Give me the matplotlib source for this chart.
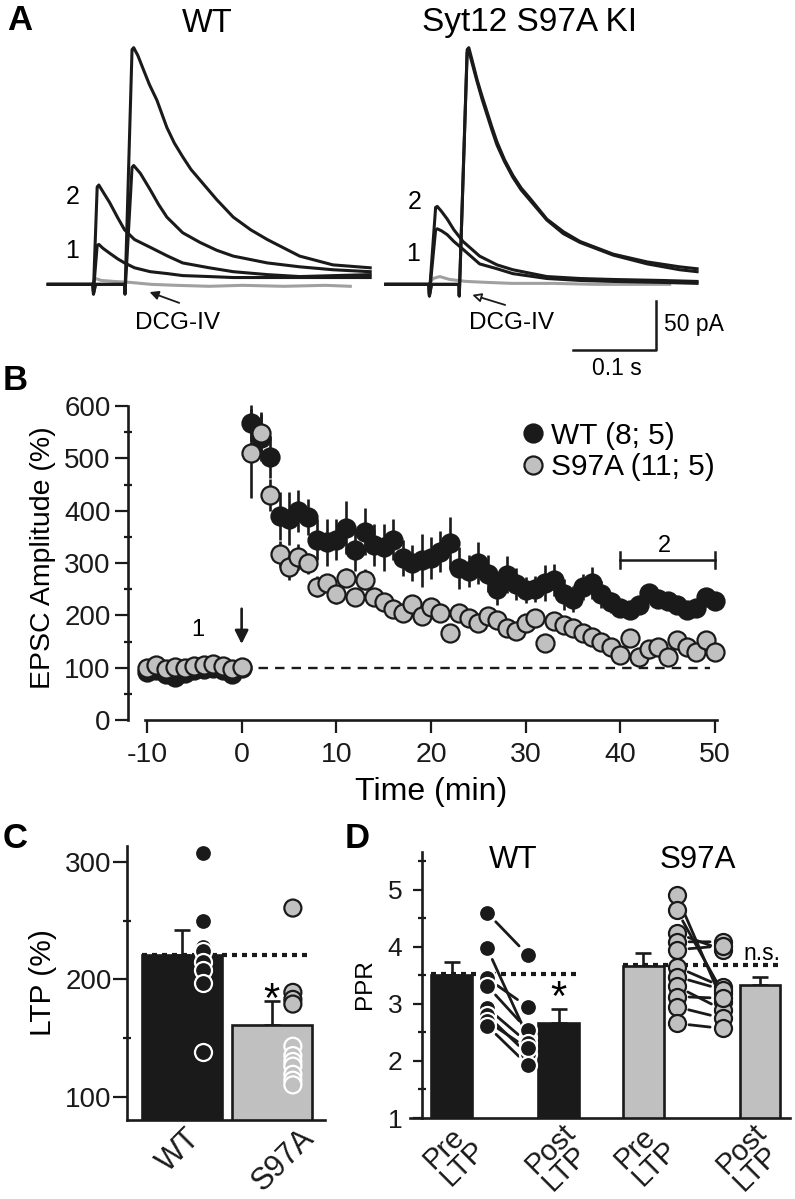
import matplotlib
matplotlib.use('Agg')
import matplotlib.pyplot as plt
import matplotlib.transforms as mtransforms
from matplotlib.lines import Line2D
from matplotlib.ticker import MultipleLocator

plt.rcParams['font.family'] = ['Liberation Sans', 'DejaVu Sans']
plt.rcParams['axes.unicode_minus'] = False

W, H = 795, 1199
INK = '#1a1a1a'
GREY = '#c0c0c0'

# ---------------- panel A: example traces (ms from 1st stimulus, pA) ----------------
wt_pre1_t = [-54, 0, 0.5, 5, 7, 12, 20, 30, 38, 50, 69, 90, 108, 140, 169, 250, 334]
wt_pre1_i = [0, 0, -7, 40, 41, 37, 32, 26, 22, 17, 13, 11, 9, 8, 7, 7, 7]
wt_post1_t = [-54, 0, 0.5, 5, 7, 12, 20, 30, 38, 50, 69, 90, 108, 140, 169, 210, 249, 334]
wt_post1_i = [0, 0, -7, 100, 102, 95, 84, 68, 56, 46, 38, 29, 22, 17, 13, 10, 8, 10]
wt_pre2_t = [-54, 0, 0.5, 3, 38, 38.5, 47, 49, 57, 69, 79, 89, 108, 129, 149, 169, 210, 249, 289, 334]
wt_pre2_i = [0, 0, -10, 0, 0, -10, 120, 122, 114, 97, 82, 69, 53, 43, 35, 29, 22, 18, 15, 13]
wt_post2_t = [-54, 0, 0.5, 3, 38, 38.5, 47, 49, 54, 60, 68, 77, 89, 98, 108, 118, 129, 149, 169, 190,
              210, 249, 289, 334]
wt_post2_i = [0, 0, -10, 0, 0, -10, 241, 243, 235, 222, 205, 189, 161, 145, 131, 118, 107, 87, 69, 56,
              46, 29, 20, 17]
wt_dcg_t = [-1, 3, 10, 25, 45, 70, 100, 140, 180, 230, 280, 310]
wt_dcg_i = [0, 6, 4, 3, 2, 0, -1, -2, -1, -2, -1, -2]

ki_pre1_t = [-52, 0, 0.5, 8, 10, 15, 22, 30, 41, 61, 82, 101, 142, 182, 222, 280, 323]
ki_pre1_i = [0, 0, -10, 56, 57, 55, 51, 44, 36, 21, 16, 11, 6, 4, 3, 2, 1]
ki_post1_t = [-52, 0, 0.5, 8, 10, 15, 22, 30, 41, 61, 82, 101, 142, 182, 222, 280, 323]
ki_post1_i = [0, 0, -10, 79, 80, 75, 67, 56, 44, 29, 20, 15, 8, 6, 5, 4, 3]
ki_pre2_t = [-52, 0, 0.5, 3, 36, 36.5, 46, 48, 52, 58, 64, 70, 76, 82, 91, 101, 111, 122, 142, 162,
             182, 222, 263, 302, 323]
ki_pre2_i = [0, 0, -12, 0, 0, -12, 241, 243, 230, 210, 193, 177, 161, 146, 128, 112, 99, 88, 67, 54,
             44, 31, 23, 18, 16]
ki_post2_t = [-52, 0, 0.5, 3, 36, 36.5, 46, 48, 52, 58, 64, 70, 76, 82, 91, 101, 111, 122, 142, 162,
              182, 222, 263, 302, 323]
ki_post2_i = [0, 0, -12, 0, 0, -12, 238, 240, 227, 208, 190, 174, 158, 143, 126, 110, 97, 86, 66, 52,
              43, 30, 21, 15, 13]
ki_dcg_t = [0, 5, 13, 25, 45, 70, 100, 150, 200, 250, 290]
ki_dcg_i = [0, 6, 8, 5, 3, 2, 1, 1, 0, 0, 0]

# ---------------- panel B: time course ----------------
minutes = list(range(-10, 51))
wt_amp = [92, 95, 88, 82, 90, 95, 97, 100, 95, 88, 100,
          568, 540, 502, 390, 385, 400, 388, 345, 340, 345,
          368, 325, 360, 335, 330, 345, 310, 300, 305, 310,
          322, 338, 290, 285, 300, 280, 250, 278, 260, 248,
          250, 262, 268, 240, 232, 255, 262, 240, 225, 215,
          210, 220, 243, 232, 228, 220, 210, 215, 235, 228]
wt_sem = [10, 8, 10, 12, 9, 8, 8, 9, 8, 10, 8,
          35, 45, 40, 45, 50, 40, 35, 40, 45, 40,
          50, 40, 45, 40, 45, 40, 35, 35, 50, 40,
          40, 50, 40, 30, 40, 35, 30, 35, 30, 25,
          25, 35, 30, 30, 25, 25, 30, 25, 20, 15,
          15, 15, 15, 15, 12, 12, 12, 12, 12, 12]
ki_amp = [100, 105, 98, 102, 100, 104, 106, 108, 104, 98, 102,
          510, 548, 430, 318, 293, 312, 300, 255, 262, 240,
          272, 236, 268, 236, 225, 212, 205, 222, 198, 216,
          205, 166, 204, 195, 185, 198, 192, 175, 170, 185,
          195, 147, 190, 182, 175, 166, 158, 150, 140, 125,
          157, 121, 135, 140, 120, 153, 140, 130, 153, 130]
ki_sem = [6, 7, 6, 6, 7, 6, 6, 7, 6, 6, 6,
          85, 40, 30, 25, 25, 25, 20, 20, 18, 18,
          18, 15, 20, 15, 15, 15, 15, 15, 15, 15,
          15, 15, 15, 15, 15, 15, 15, 15, 15, 15,
          15, 15, 15, 15, 12, 12, 12, 12, 12, 12,
          12, 12, 12, 12, 12, 12, 12, 12, 12, 12]

# ---------------- panel C: LTP magnitude ----------------
ltp_groups = ['WT', 'S97A']
ltp_mean = [221, 161]
ltp_sem = [21, 21]
ltp_wt = [308, 250, 228, 224, 215, 208, 197, 138]
ltp_ki = [261, 189, 183, 179, 143, 135, 130, 126, 119, 114, 110]

# ---------------- panel D: paired-pulse ratio ----------------
ppr_labels = ['Pre\nLTP', 'Post\nLTP', 'Pre\nLTP', 'Post\nLTP']
ppr_mean = [3.50, 2.67, 3.66, 3.33]
ppr_sem = [0.24, 0.24, 0.23, 0.15]
ppr_wt_pre = [4.60, 3.98, 3.45, 3.32, 2.93, 2.80, 2.70, 2.62]
ppr_wt_post = [3.86, 2.42, 2.95, 2.54, 2.32, 2.12, 2.22, 1.93]
ppr_ki_pre = [4.91, 4.65, 4.24, 4.09, 3.95, 3.65, 3.48, 3.31, 3.13, 2.95, 2.66]
ppr_ki_post = [3.04, 3.20, 3.95, 4.09, 4.02, 3.30, 3.25, 2.90, 3.10, 2.75, 2.57]


def box(x0, y0, x1, y1):
    # pixel box (origin top-left) -> figure rect
    return [x0 / W, 1 - y1 / H, (x1 - x0) / W, (y1 - y0) / H]


def style_axes(ax):
    for s in ['top', 'right']:
        ax.spines[s].set_visible(False)
    for s in ['left', 'bottom']:
        ax.spines[s].set_linewidth(1.9)
        ax.spines[s].set_color(INK)
    ax.tick_params(which='both', width=1.6, color=INK, labelsize=19, labelcolor=INK)


def shift_label(label, dx_px):
    label.set_transform(label.get_transform() +
                        mtransforms.ScaledTranslation(dx_px / 100, 0, fig.dpi_scale_trans))


fig = plt.figure(figsize=(W / 100, H / 100), dpi=100)

# ---------------- A ----------------
axA1 = fig.add_axes(box(40, 35, 380, 335))
axA2 = fig.add_axes(box(380, 35, 740, 335))
axA1.set_xlim(-63.9, 345.8)
axA2.set_xlim(-59, 374.7)
for ax in (axA1, axA2):
    ax.set_ylim(-52, 256)
    ax.axis('off')

axA1.plot(wt_dcg_t, wt_dcg_i, color='#a0a0a0', lw=2.2, zorder=1)
for t, i in [(wt_pre1_t, wt_pre1_i), (wt_post1_t, wt_post1_i),
             (wt_pre2_t, wt_pre2_i), (wt_post2_t, wt_post2_i)]:
    axA1.plot(t, i, color=INK, lw=2.2, zorder=2, solid_joinstyle='round')
axA2.plot(ki_dcg_t, ki_dcg_i, color='#a0a0a0', lw=2.2, zorder=1)
for t, i in [(ki_pre1_t, ki_pre1_i), (ki_post1_t, ki_post1_i),
             (ki_pre2_t, ki_pre2_i), (ki_post2_t, ki_post2_i)]:
    axA2.plot(t, i, color=INK, lw=2.2, zorder=2, solid_joinstyle='round')

axA1.text(-25, 90, '2', fontsize=18, ha='center', va='center')
axA1.text(-25, 34, '1', fontsize=18, ha='center', va='center')
axA2.text(-17, 85, '2', fontsize=18, ha='center', va='center')
axA2.text(-19, 31, '1', fontsize=18, ha='center', va='center')
axA1.annotate('', xy=(65, -7), xytext=(107, -20),
              arrowprops=dict(arrowstyle='-|>', lw=1.3, color=INK, mutation_scale=13))
axA1.text(102, -40, 'DCG-IV', fontsize=17.5, ha='center', va='center')
axA2.annotate('', xy=(49, -10), xytext=(95, -22),
              arrowprops=dict(arrowstyle='-|>', lw=1.3, color=INK, fc='white', mutation_scale=13))
axA2.text(100, -40, 'DCG-IV', fontsize=17.5, ha='center', va='center')

# scale bar 100 ms x 50 pA
axA2.plot([173.5, 273.5, 273.5], [-67, -67, -17], color=INK, lw=1.8, clip_on=False)
axA2.text(283, -41, '50 pA', fontsize=16.5, ha='left', va='center')
axA2.text(226, -86, '0.1 s', fontsize=16.5, ha='center', va='center')

fig.text(207 / W, 1 - 24 / H, 'WT', fontsize=23.5, ha='center', va='center')
fig.text(530 / W, 1 - 23 / H, 'Syt12 S97A KI', fontsize=24, ha='center', va='center')

# ---------------- B ----------------
axB = fig.add_axes(box(128, 395.7, 734, 720))
style_axes(axB)
axB.set_xlim(-12, 52)
axB.set_ylim(0, 620)
axB.spines['left'].set_bounds(0, 600)
axB.spines['bottom'].set_bounds(-10.2, 50.2)
axB.set_xticks(range(-10, 51, 10))
axB.set_yticks(range(0, 601, 100))
axB.yaxis.set_minor_locator(MultipleLocator(50))
axB.tick_params(which='major', length=9.5, pad=3)
axB.tick_params(axis='y', which='minor', direction='inout', length=6)
axB.tick_params(axis='y', which='major', labelsize=20)
axB.tick_params(axis='x', which='major', pad=6, labelsize=20.5)

axB.plot([0, 49.5], [100, 100], ls=(0, (4, 3)), color=INK, lw=1.7, zorder=1)
axB.errorbar(minutes, wt_amp, yerr=wt_sem, fmt='o', ms=13, mfc=INK, mec=INK, mew=1.6,
             ecolor=INK, elinewidth=1.9, capsize=0, zorder=3)
axB.errorbar(minutes, ki_amp, yerr=ki_sem, fmt='o', ms=13, mfc=GREY, mec=INK, mew=1.6,
             ecolor=INK, elinewidth=1.9, capsize=0, zorder=4)

axB.annotate('', xy=(0, 140), xytext=(0, 218),
             arrowprops=dict(arrowstyle='-|>', lw=1.9, color=INK, mutation_scale=20))
axB.text(-4.6, 172, '1', fontsize=17, ha='center', va='center')
axB.plot([40, 50], [306, 306], color=INK, lw=1.8)
axB.plot([40, 40], [291, 321], color=INK, lw=1.8)
axB.plot([50, 50], [291, 321], color=INK, lw=1.8)
axB.text(44.7, 333, '2', fontsize=17, ha='center', va='center')

axB.set_ylabel('EPSC Amplitude (%)', fontsize=20.5, labelpad=6)
axB.set_xlabel('Time (min)', fontsize=23, labelpad=7)

handles = [Line2D([], [], ls='', marker='o', ms=13, mfc=INK, mec=INK, mew=1.6),
           Line2D([], [], ls='', marker='o', ms=13, mfc=GREY, mec=INK, mew=1.6)]
axB.legend(handles, ['WT (8; 5)', 'S97A (11; 5)'], loc='upper left',
           bbox_to_anchor=(0.6485, 0.92), frameon=False, fontsize=21.5,
           borderaxespad=0, borderpad=0, handlelength=0.8, handletextpad=0.22,
           labelspacing=0.12)

# ---------------- C ----------------
axC = fig.add_axes(box(127, 846, 325, 1120))
style_axes(axC)
axC.set_xlim(-0.61, 1.59)
axC.set_ylim(80, 314)
axC.set_yticks([100, 200, 300])
axC.yaxis.set_minor_locator(MultipleLocator(50))
axC.tick_params(axis='y', which='major', length=10, pad=1, labelsize=20)
axC.tick_params(axis='y', which='minor', direction='inout', length=6)
xc = [0, 1]
axC.bar(xc, ltp_mean, width=0.89, color=[INK, GREY], edgecolor=INK, lw=1.9, zorder=2)
axC.errorbar(xc, ltp_mean, yerr=[[0, 0], ltp_sem], fmt='none', ecolor=INK,
             elinewidth=1.9, capsize=6, capthick=1.9, zorder=1)
axC.plot([-0.445, 1.445], [ltp_mean[0], ltp_mean[0]], ls=(0, (1.2, 1.2)), color=INK,
         lw=3, zorder=3)
axC.scatter([0.233] * len(ltp_wt), ltp_wt, s=150, c=INK, edgecolors='white',
            linewidths=1.6, zorder=4)
ki_edges = ['white' if v < ltp_mean[1] else INK for v in ltp_ki]
axC.scatter([1.233] * len(ltp_ki), ltp_ki, s=150, c=GREY, edgecolors=ki_edges,
            linewidths=1.6, zorder=4)
axC.text(1.0, 182, '*', fontsize=30, ha='center', va='center')
axC.set_xticks(xc)
axC.set_xticklabels(ltp_groups, rotation=45, ha='right', rotation_mode='anchor',
                    fontsize=22)
axC.tick_params(axis='x', length=0, pad=2)
for lab, dx in zip(axC.get_xticklabels(), [3, 27]):
    shift_label(lab, dx)
axC.set_ylabel('LTP (%)', fontsize=21.5, labelpad=6)

# ---------------- D ----------------
axD = fig.add_axes(box(410, 850, 790, 1118))
style_axes(axD)
axD.set_xlim(-0.39, 3.16)
axD.set_ylim(1, 5.7)
axD.spines['left'].set_position(('data', -0.274))
axD.spines['left'].set_bounds(1, 5.67)
axD.set_yticks([1, 2, 3, 4, 5])
axD.yaxis.set_minor_locator(MultipleLocator(0.5))
axD.tick_params(axis='y', which='major', length=6.5, pad=8, labelsize=19)
axD.tick_params(axis='y', which='minor', direction='inout', length=6)
xd = [0, 1, 1.79, 2.88]
axD.bar(xd, ppr_mean, width=0.38, color=[INK, INK, GREY, GREY], edgecolor=INK,
        lw=1.9, zorder=2)
axD.errorbar(xd, ppr_mean, yerr=[[0] * 4, ppr_sem], fmt='none', ecolor=INK,
             elinewidth=1.9, capsize=6, capthick=1.9, zorder=1)
axD.plot([-0.19, 1.19], [ppr_mean[0] + 0.03, ppr_mean[0] + 0.03], ls=(0, (1.2, 1.2)),
         color=INK, lw=3, zorder=3)
axD.plot([1.60, 3.07], [ppr_mean[2] + 0.03, ppr_mean[2] + 0.03], ls=(0, (1.2, 1.2)),
         color=INK, lw=3, zorder=3)

for pre, post in zip(ppr_wt_pre, ppr_wt_post):
    axD.annotate('', xy=(0.71, post), xytext=(0.33, pre), zorder=3,
                 arrowprops=dict(arrowstyle='-', lw=2, color=INK, shrinkA=9, shrinkB=9))
for pre, post in zip(ppr_ki_pre, ppr_ki_post):
    axD.annotate('', xy=(2.53, post), xytext=(2.10, pre), zorder=3,
                 arrowprops=dict(arrowstyle='-', lw=2, color=INK, shrinkA=9, shrinkB=9))
axD.scatter([0.33] * 8, ppr_wt_pre, s=150, c=INK, edgecolors='white', linewidths=1.6, zorder=4)
axD.scatter([0.71] * 8, ppr_wt_post, s=150, c=INK, edgecolors='white', linewidths=1.6, zorder=4)
axD.scatter([2.10] * 11, ppr_ki_pre, s=150, c=GREY, edgecolors=INK, linewidths=1.6, zorder=4)
axD.scatter([2.53] * 11, ppr_ki_post, s=150, c=GREY, edgecolors=INK, linewidths=1.6, zorder=4)

axD.text(1.0, 3.08, '*', fontsize=30, ha='center', va='center')
axD.text(2.9, 3.89, 'n.s.', fontsize=16.5, ha='center', va='center')
axD.text(0.57, 5.53, 'WT', fontsize=22.5, ha='center', va='center')
axD.text(2.30, 5.53, 'S97A', fontsize=22.5, ha='center', va='center')
axD.set_xticks(xd)
axD.set_xticklabels(ppr_labels, rotation=45, ha='right', rotation_mode='anchor',
                    ma='left', linespacing=0.85, fontsize=21)
axD.tick_params(axis='x', length=0, pad=0)
for lab, dx in zip(axD.get_xticklabels(), [2, 2, 2, -8]):
    shift_label(lab, dx)
axD.set_ylabel('PPR', fontsize=17.5, labelpad=8)

# panel letters
for letter, (px, py) in zip('ABCD', [(20, 21), (15, 381), (15, 838), (357, 838)]):
    fig.text(px / W, 1 - py / H, letter, fontsize=25, fontweight='bold',
             ha='center', va='center')

fig.savefig('out.png', dpi=100)
